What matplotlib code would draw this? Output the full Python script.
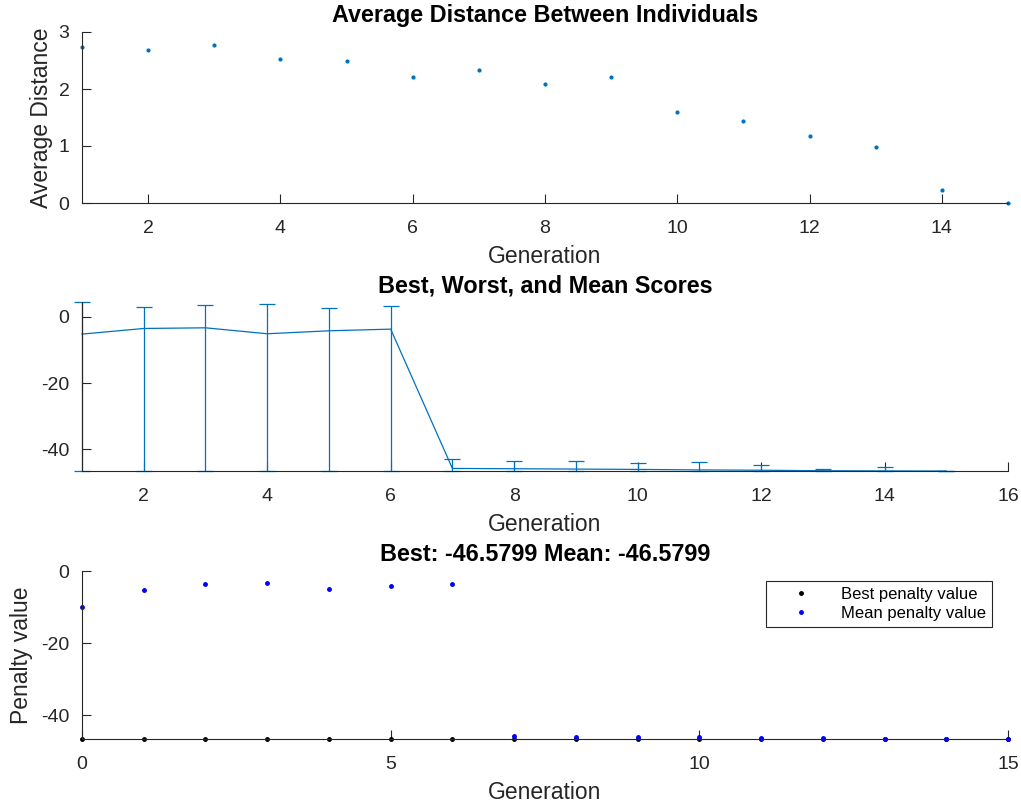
import matplotlib
matplotlib.use("Agg")
import matplotlib.pyplot as plt

# generation data
gens_dist = list(range(1, 16))
avg_distance = [2.73, 2.68, 2.78, 2.53, 2.49, 2.21, 2.33, 2.09, 2.21, 1.60, 1.44, 1.18, 0.99, 0.22, 0.0]

gens_all = list(range(0, 16))
best_score = [-46.5799] * 16
mean_score = [-10.1, -5.2, -3.5, -3.3, -5.1, -4.2, -3.7, -45.8, -45.9, -46.0,
              -46.1, -46.25, -46.35, -46.5, -46.55, -46.5799]
worst_score = [-2.0, 4.5, 3.0, 3.6, 4.0, 2.7, 3.3, -42.9, -43.5, -43.5,
               -44.1, -43.9, -44.8, -45.9, -45.4, -46.5799]

plt.rcParams["font.family"] = ["Liberation Sans", "DejaVu Sans"]
plt.rcParams["axes.unicode_minus"] = False

dark = "#262626"
mblue = "#0072BD"
W, H = 1021, 807

fig = plt.figure(figsize=(W / 100, H / 100), dpi=100)


def make_axes(top, bottom):
    ax = fig.add_axes([82 / W, (H - bottom) / H, 926 / W, (bottom - top) / H])
    for s in ("top", "right"):
        ax.spines[s].set_visible(False)
    for s in ("left", "bottom"):
        ax.spines[s].set_color(dark)
        ax.spines[s].set_linewidth(0.8)
    ax.tick_params(direction="in", length=6.5, width=0.8, color=dark,
                   labelcolor=dark, labelsize=14)
    ax.tick_params(axis="x", pad=12)
    ax.tick_params(axis="y", pad=9)
    return ax


# --- average distance ---
ax1 = make_axes(32, 203)
ax1.plot(gens_dist, avg_distance, ".", color=mblue, markersize=4, clip_on=False)
ax1.set_xlim(1, 15)
ax1.set_ylim(0, 3)
ax1.set_xticks(range(2, 15, 2))
ax1.set_yticks([0, 1, 2, 3])
ax1.set_title("Average Distance Between Individuals", fontsize=16.8, fontweight="bold", pad=7)
ax1.set_xlabel("Generation", fontsize=16.5, color=dark, labelpad=6)
ax1.set_ylabel("Average Distance", fontsize=16.5, color=dark, labelpad=4)

# --- best, worst, mean ---
ax2 = make_axes(302, 471)
g = gens_all[1:]
m = mean_score[1:]
lo = [mm - b for mm, b in zip(m, best_score[1:])]
hi = [w - mm for w, mm in zip(worst_score[1:], m)]
ax2.errorbar(g, m, yerr=[lo, hi], color=mblue, linewidth=0.9, elinewidth=0.9,
             capsize=6, capthick=0.9, clip_on=False)
ax2.set_xlim(1, 16)
ax2.set_ylim(-46.5799, max(worst_score))
ax2.set_xticks(range(2, 17, 2))
ax2.set_yticks([-40, -20, 0])
ax2.set_title("Best, Worst, and Mean Scores", fontsize=16.8, fontweight="bold", pad=7)
ax2.set_xlabel("Generation", fontsize=16.5, color=dark, labelpad=6)

# --- penalty values ---
ax3 = make_axes(571, 739)
ax3.plot(gens_all, best_score, ".", color="black", markersize=5, clip_on=False,
         label="Best penalty value")
ax3.plot(gens_all, mean_score, ".", color="blue", markersize=5, clip_on=False,
         label="Mean penalty value")
ax3.set_xlim(0, 15)
ax3.set_ylim(-46.5799, 0)
ax3.set_xticks([0, 5, 10, 15])
ax3.set_yticks([-40, -20, 0])
ax3.set_title("Best: -46.5799 Mean: -46.5799", fontsize=16.8, fontweight="bold", pad=7)
ax3.set_xlabel("Generation", fontsize=16.5, color=dark, labelpad=6)
ax3.set_ylabel("Penalty value", fontsize=16.5, color=dark, labelpad=6)
leg = ax3.legend(loc="upper right", bbox_to_anchor=(0.983, 0.94), fontsize=12,
                 fancybox=False, framealpha=1, edgecolor=dark, markerscale=1,
                 handlelength=3.5, handletextpad=0.7, borderpad=0.35,
                 labelspacing=0.25, borderaxespad=0)
leg.get_frame().set_linewidth(0.8)

fig.savefig("out.png", dpi=100)
